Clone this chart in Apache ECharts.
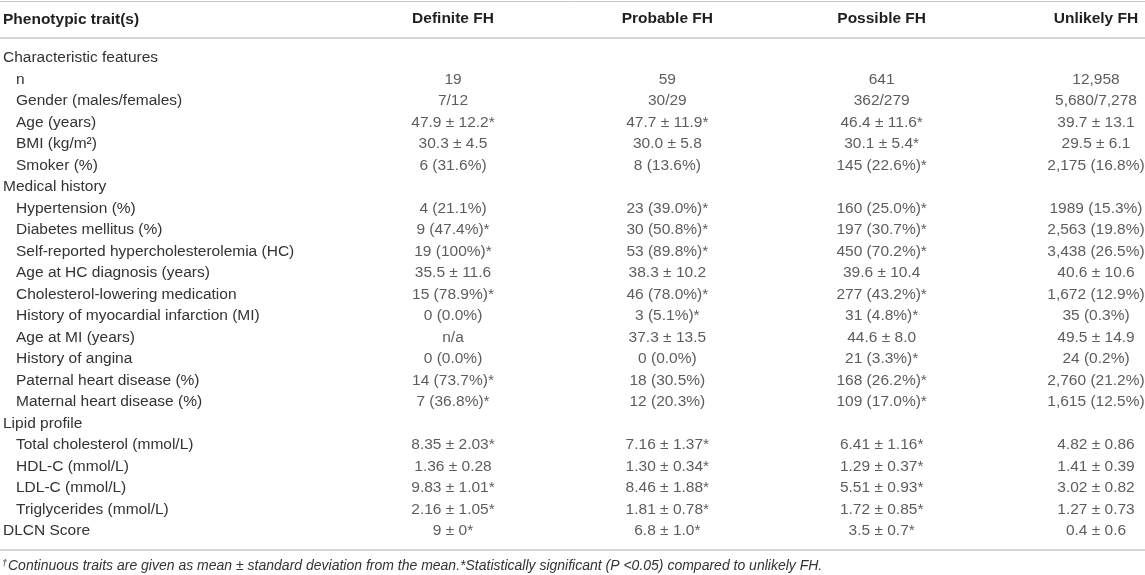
<!DOCTYPE html>
<html>
<head>
<meta charset="utf-8">
<script src="https://cdn.jsdelivr.net/npm/echarts@6/dist/echarts.min.js"></script>
<style>
  html, body { margin: 0; padding: 0; background: #fff; }
  #table { width: 1145px; height: 575px; }
</style>
</head>
<body>
<div id="table"></div>
<script>
// row labels, in table order
const rowLabels = [
    'Characteristic features', 'n', 'Gender (males/females)', 'Age (years)', 'BMI (kg/m²)', 'Smoker (%)',
    'Medical history', 'Hypertension (%)', 'Diabetes mellitus (%)', 'Self-reported hypercholesterolemia (HC)',
    'Age at HC diagnosis (years)', 'Cholesterol-lowering medication', 'History of myocardial infarction (MI)',
    'Age at MI (years)', 'History of angina', 'Paternal heart disease (%)', 'Maternal heart disease (%)',
    'Lipid profile', 'Total cholesterol (mmol/L)', 'HDL-C (mmol/L)', 'LDL-C (mmol/L)', 'Triglycerides (mmol/L)',
    'DLCN Score'
];
// rows that are not indented
const sectionRows = ['Characteristic features', 'Medical history', 'Lipid profile', 'DLCN Score'];

const columns = ['Definite FH', 'Probable FH', 'Possible FH', 'Unlikely FH'];

const definiteFH = ['', '19', '7/12', '47.9 ± 12.2*', '30.3 ± 4.5', '6 (31.6%)',
    '', '4 (21.1%)', '9 (47.4%)*', '19 (100%)*', '35.5 ± 11.6', '15 (78.9%)*', '0 (0.0%)', 'n/a', '0 (0.0%)', '14 (73.7%)*', '7 (36.8%)*',
    '', '8.35 ± 2.03*', '1.36 ± 0.28', '9.83 ± 1.01*', '2.16 ± 1.05*', '9 ± 0*'];
const probableFH = ['', '59', '30/29', '47.7 ± 11.9*', '30.0 ± 5.8', '8 (13.6%)',
    '', '23 (39.0%)*', '30 (50.8%)*', '53 (89.8%)*', '38.3 ± 10.2', '46 (78.0%)*', '3 (5.1%)*', '37.3 ± 13.5', '0 (0.0%)', '18 (30.5%)', '12 (20.3%)',
    '', '7.16 ± 1.37*', '1.30 ± 0.34*', '8.46 ± 1.88*', '1.81 ± 0.78*', '6.8 ± 1.0*'];
const possibleFH = ['', '641', '362/279', '46.4 ± 11.6*', '30.1 ± 5.4*', '145 (22.6%)*',
    '', '160 (25.0%)*', '197 (30.7%)*', '450 (70.2%)*', '39.6 ± 10.4', '277 (43.2%)*', '31 (4.8%)*', '44.6 ± 8.0', '21 (3.3%)*', '168 (26.2%)*', '109 (17.0%)*',
    '', '6.41 ± 1.16*', '1.29 ± 0.37*', '5.51 ± 0.93*', '1.72 ± 0.85*', '3.5 ± 0.7*'];
const unlikelyFH = ['', '12,958', '5,680/7,278', '39.7 ± 13.1', '29.5 ± 6.1', '2,175 (16.8%)',
    '', '1989 (15.3%)', '2,563 (19.8%)', '3,438 (26.5%)', '40.6 ± 10.6', '1,672 (12.9%)', '35 (0.3%)', '49.5 ± 14.9', '24 (0.2%)', '2,760 (21.2%)', '1,615 (12.5%)',
    '', '4.82 ± 0.86', '1.41 ± 0.39', '3.02 ± 0.82', '1.27 ± 0.73', '0.4 ± 0.6'];

const footnote = 'Continuous traits are given as mean ± standard deviation from the mean.*Statistically significant (P <0.05) compared to unlikely FH.';

const FONT = 'Liberation Sans';
const TEXT = '#333';
const HEAD = '#1f1f1f';
const RULE = '#c8c8c8';

const colValues = [definiteFH, probableFH, possibleFH, unlikelyFH];

// 只画线的轴
function ruleAxis(position, offset, width) {
    return {
        type: 'value', gridIndex: 0, min: 0, max: 1, position: position, offset: offset,
        axisLine: { show: true, lineStyle: { color: RULE, width: width } },
        axisTick: { show: false }, axisLabel: { show: false }, splitLine: { show: false }
    };
}

const option = {
    backgroundColor: '#fff',
    animation: false,
    textStyle: { fontFamily: FONT },
    title: {
        left: 2, top: 559, padding: 0,
        text: '{d|†}{t|' + footnote + '}',
        textStyle: {
            fontWeight: 'normal',
            rich: {
                d: { fontFamily: FONT, fontSize: 9, fontStyle: 'italic', fontWeight: 'normal', color: TEXT, verticalAlign: 'top', padding: [0, 1, 6, 0] },
                t: { fontFamily: FONT, fontSize: 14, fontStyle: 'italic', fontWeight: 'normal', color: TEXT }
            }
        }
    },
    grid: [
        { left: 0, right: 0, top: 47.25, bottom: 33.25 },
        { left: 453, right: 49, top: 47.25, bottom: 33.25 }
    ],
    xAxis: [
        ruleAxis('top', 9.25, 1.5),
        ruleAxis('top', 46.5, 1),
        ruleAxis('bottom', 8.25, 1.5),
        {
            type: 'category', gridIndex: 1, position: 'top', data: columns, boundaryGap: false,
            axisLine: { show: false }, axisTick: { show: false },
            axisLabel: { interval: 0, margin: 21, fontFamily: FONT, fontSize: 15.5, fontWeight: 'bold', color: HEAD }
        }
    ],
    yAxis: [
        {
            type: 'category', gridIndex: 0, data: rowLabels, inverse: true,
            name: 'Phenotypic trait(s)', nameLocation: 'start', nameGap: 28,
            nameTextStyle: { fontFamily: FONT, fontSize: 15.5, fontWeight: 'bold', color: HEAD, align: 'left', verticalAlign: 'middle', padding: [0, 0, 0, 3] },
            axisLine: { show: false }, axisTick: { show: false },
            axisLabel: {
                inside: true, interval: 0, margin: 3, color: TEXT, fontFamily: FONT, fontSize: 15.5,
                formatter: v => sectionRows.includes(v) ? '{s|' + v + '}' : '{i|' + v + '}',
                rich: {
                    s: { fontFamily: FONT, fontSize: 15.5, color: TEXT },
                    i: { fontFamily: FONT, fontSize: 15.5, color: TEXT, padding: [0, 0, 0, 13] }
                }
            }
        },
        { type: 'category', gridIndex: 1, data: rowLabels, inverse: true, show: false }
    ],
    series: columns.map((name, j) => ({
        name: name,
        type: 'scatter',
        xAxisIndex: 3,
        yAxisIndex: 1,
        symbolSize: 1,
        silent: true,
        itemStyle: { color: 'rgba(0,0,0,0)' },
        label: {
            show: true, position: 'inside', formatter: p => p.value[2],
            fontFamily: FONT, fontSize: 15.5, color: TEXT
        },
        data: colValues[j].map((t, i) => [j, i, t]).filter(d => d[2] !== '')
    }))
};

let myChart = echarts.init(document.getElementById('table'));
myChart.setOption(option);
</script>
</body>
</html>
